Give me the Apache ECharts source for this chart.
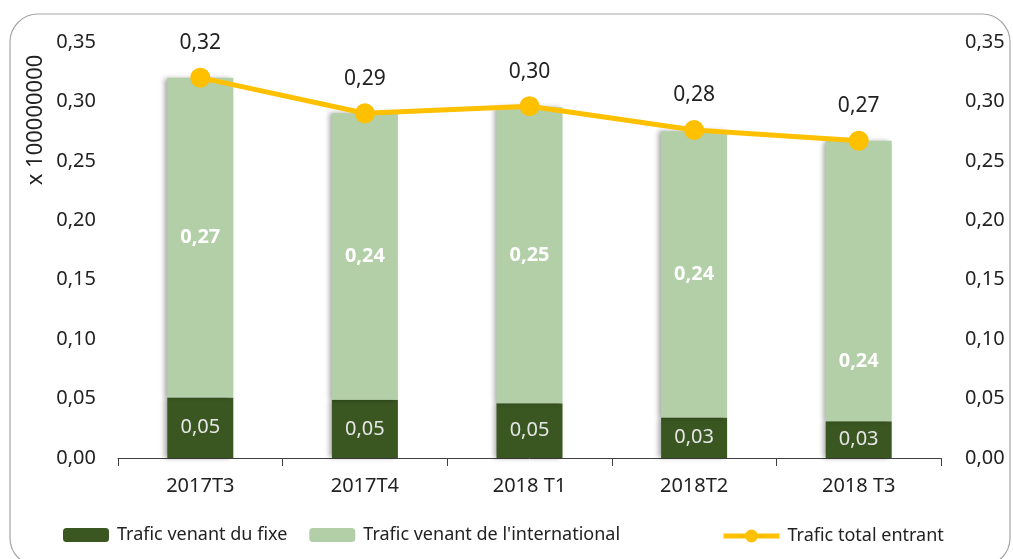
<!DOCTYPE html>
<html>
<head>
<meta charset="utf-8">
<title>Trafic entrant</title>
<script src="https://cdn.jsdelivr.net/npm/echarts@6/dist/echarts.min.js"></script>
<style>
  html, body { margin: 0; padding: 0; background: #fff; }
  #chart { width: 1013px; height: 559px; }
</style>
</head>
<body>
<div id="chart"></div>
<script>
var periodes = ['2017T3', '2017T4', '2018 T1', '2018T2', '2018 T3'];
var fixe = [0.051, 0.049, 0.046, 0.034, 0.031];
var international = [0.269, 0.241, 0.249, 0.241, 0.236];
var total = [0.320, 0.290, 0.296, 0.276, 0.267];

var police = 'Noto Sans';
function virgule(v) { return v.toFixed(2).replace('.', ','); }

// le libellé du dernier trimestre est placé plus bas dans l'original
var internationalData = international.map(function (v, i) {
  if (i === international.length - 1) {
    return { value: v, label: { offset: [0, 80] } };
  }
  return v;
});

var legendeTexte = { fontSize: 18, color: '#222', fontFamily: police, padding: [0, 0, 0, 3] };

var chart = echarts.init(document.getElementById('chart'));

chart.setOption({
  animation: false,
  textStyle: { fontFamily: police },
  graphic: [
    {
      type: 'rect',
      shape: { x: 10, y: 14, width: 1000, height: 552, r: 28 },
      style: { fill: 'none', stroke: '#a6a6a6', lineWidth: 1.2 },
      z: -1
    },
    {
      type: 'text',
      x: 36, y: 120,
      rotation: Math.PI / 2,
      style: {
        text: 'x 100000000', fontSize: 22, fontFamily: police, fill: '#222',
        textAlign: 'center', textVerticalAlign: 'middle'
      }
    }
  ],
  grid: { left: 118, right: 72, top: 42, bottom: 101 },
  legend: [
    {
      bottom: 10,
      left: 58,
      itemWidth: 46,
      itemHeight: 14,
      itemGap: 22,
      textStyle: legendeTexte,
      data: ['Trafic venant du fixe', "Trafic venant de l'international"]
    },
    {
      bottom: 9,
      left: 716,
      itemWidth: 56,
      itemHeight: 16,
      lineStyle: { width: 5 },
      textStyle: legendeTexte,
      data: ['Trafic total entrant']
    }
  ],
  xAxis: {
    type: 'category',
    data: periodes,
    axisLine: { lineStyle: { color: '#404040', width: 1 } },
    axisTick: { show: true, length: 8, lineStyle: { color: '#404040' } },
    axisLabel: { fontSize: 20, color: '#222', margin: 18 }
  },
  yAxis: [
    {
      type: 'value', min: 0, max: 0.35, interval: 0.05,
      splitLine: { show: false },
      axisLine: { show: false },
      axisLabel: { fontSize: 20, color: '#222', margin: 22, formatter: virgule }
    },
    {
      type: 'value', min: 0, max: 0.35, interval: 0.05, position: 'right',
      splitLine: { show: false },
      axisLine: { show: false },
      axisLabel: { fontSize: 20, color: '#222', margin: 24, formatter: virgule }
    }
  ],
  series: [
    {
      name: 'Trafic venant du fixe',
      type: 'bar',
      stack: 'trafic',
      barWidth: 66,
      data: fixe,
      itemStyle: {
        color: '#3a5722',
        shadowColor: 'rgba(0,0,0,0.35)', shadowBlur: 5, shadowOffsetX: -3
      },
      label: {
        show: true, position: 'inside', fontSize: 20, color: '#e6e6e6',
        formatter: function (p) { return virgule(p.value); }
      }
    },
    {
      name: "Trafic venant de l'international",
      type: 'bar',
      stack: 'trafic',
      barWidth: 66,
      data: internationalData,
      itemStyle: {
        color: '#b3cfa7',
        shadowColor: 'rgba(0,0,0,0.35)', shadowBlur: 5, shadowOffsetX: -3
      },
      label: {
        show: true, position: 'inside', fontSize: 20, fontWeight: 'bold', color: '#fff',
        formatter: function (p) { return virgule(p.value); }
      }
    },
    {
      name: 'Trafic total entrant',
      type: 'line',
      data: total,
      symbol: 'circle',
      symbolSize: 20,
      lineStyle: { color: '#ffc000', width: 5 },
      itemStyle: { color: '#ffc000' },
      label: {
        show: true, position: 'top', distance: 14, fontSize: 21, color: '#222',
        formatter: function (p) { return virgule(p.value); }
      },
      z: 5
    }
  ]
});
</script>
</body>
</html>
